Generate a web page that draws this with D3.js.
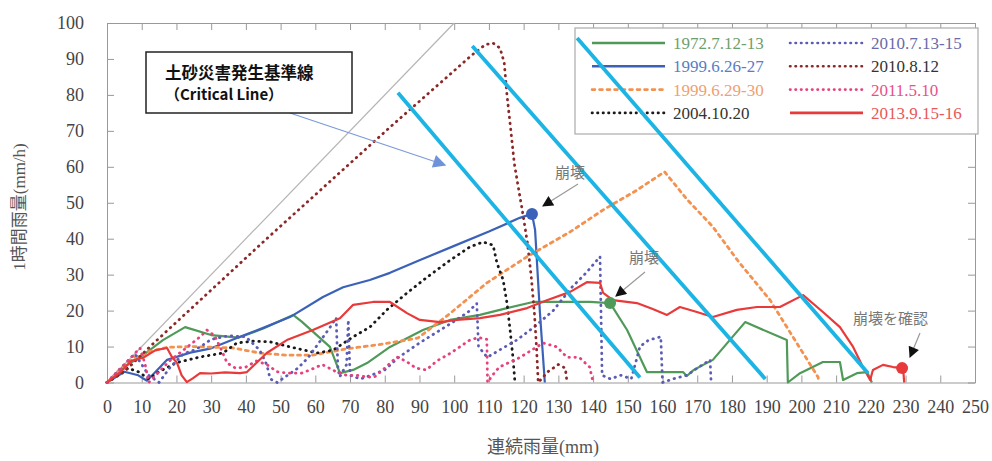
<!DOCTYPE html>
<html>
<head>
<meta charset="utf-8">
<script src="https://cdn.jsdelivr.net/npm/d3@7"></script>
<style>
  body { margin: 0; background: #fff; }
  svg text { font-family: "Liberation Serif", "Noto Sans CJK JP", serif; }
</style>
</head>
<body>
<script>
// series values: [cumulative rain (mm), hourly rain (mm/h)]
let s1972 = [[0,0],[3.7,3.6],[10.4,7.6],[16.1,11.8],[22.5,15.4],[30,13.2],[38,12.5],[45,15],[53.6,18.8],[56,17],
  [64.2,9.9],[67.1,2.6],[70.9,3.5],[74.9,5.4],[81.5,9.9],[91,14.6],[98.8,17.4],[107.4,18.8],[115.2,20.7],[122.7,22.4],
  [139.1,22.4],[144.9,22.1],[149.8,14.6],[155.5,2.9],[165.9,2.9],[167,1.8],[169,3.5],[171.7,4.9],[174.5,6.3],[183.8,16.8],
  [195.8,11.8],[196.1,0],[199.6,2.6],[206.2,5.7],[211.1,5.7],[212,0.7],[216,2.6],[218.9,2.9],[220.3,0]];
let s1999a = [[0,0],[5,3],[9,2],[11.5,0.5],[14,3],[17.3,6.3],[24,8.3],[30,9.5],[38.3,12.7],[45,15.2],[52.7,18.2],
  [62.2,23.8],[68,26.5],[75.7,28.5],[81.5,30.5],[90,34],[100,38],[110,42],[118.9,45.8],[122.4,46.9],[123.3,42.4],
  [124.7,19.3],[126.1,0]];
let s1999b = [[0,0],[4,4],[8,7],[12,8.5],[17.3,9.8],[25,10],[36.3,9.6],[44,8.2],[51.8,7.6],[59.3,7.6],[64,8.5],
  [70,9.5],[78,10.5],[86.4,11.8],[89.6,12.4],[98.8,19.2],[109.4,27.7],[121,35],[133.4,41.9],[142.9,48],[152.6,53.5],
  [160.6,58.6],[167,51],[174.5,43.3],[182,33.5],[191,22.9],[198,12],[204.8,1.5],[205,0]];
let s2004 = [[0,0],[3,2],[6,4],[9,3],[12,1],[15,3],[20,5.5],[26.8,7.1],[33.4,8.2],[37.4,11],[42,11.5],[47,11.3],
  [52.7,9.9],[60.5,8.2],[65.1,9],[70.9,12.7],[75.7,15.4],[80.6,20.2],[86.4,24.9],[92.2,29.3],[98.8,34],[104.5,37.7],
  [108.3,39.1],[111.2,38.2],[112.3,33.3],[114.1,28.5],[115.2,22.1],[116.1,14.6],[116.9,7.1],[117.5,0]];
let s2010a = [[0,0],[4,4],[8,8],[10,5],[12,2],[15,0],[18,4],[22,8],[25,9],[27,10],[30,12],[35,13],[40,12.7],[44,9],
  [46,5],[47,1],[49,0],[52,2],[55,4],[58,7],[61,11],[64,15],[66,18],[66.5,4],[67,1.5],[69,5],[69.5,17.4],[70,2],
  [73,1],[76,2],[80,3.5],[84,7],[90,11],[95,14],[99,16.4],[104,19.6],[106.5,22],[107,10],[109.5,7],[113,9],
  [118,11.8],[123,15.4],[128.5,20],[134,26.6],[138,30.5],[142,35],[142.6,2],[145,1],[148,2],[151,1],[153.5,10],
  [156,11.8],[159.5,12.7],[160,0],[163,1],[167,2],[170,4],[173.7,6.3],[174,0]];
let s2010b = [[0,0],[5,3],[12.4,10],[46,40],[81.5,71],[105,91],[109,94],[111.2,94.4],[113.2,93],[114.4,89],
  [115.2,80],[116.3,70.2],[117.3,61],[118.6,53.5],[119.6,48],[121.1,38.8],[122.2,29.3],[123.1,19.3],[123.7,9.9],
  [124.2,0],[127,3],[130,5],[132,4],[132.5,0]];
let s2011 = [[0,0],[5,5],[9.5,9.6],[11,5],[12,0],[15,3],[18,6],[22,9],[26.8,12.7],[28.8,14.6],[31,13],[33,9],
  [34.6,5.4],[37,4],[40,4.3],[43,6],[46,5],[49,3],[52,2.6],[56,2.6],[58.5,3.5],[62,5],[66,3],[69,2],[72,2],[75,1.5],
  [77,1.5],[80,4],[83.5,7.1],[86,6],[89,4],[92,3.5],[95,6],[99,8.2],[104.5,11.8],[107,12.5],[109.4,12],[109.6,0],
  [111,2],[113,4.3],[119,7],[125.6,11],[129.6,9.9],[132.5,7],[136,7],[139,4.3],[140,0]];
let s2013 = [[0,0],[4,3],[7,6],[10.4,6.9],[14,9],[17.3,9.6],[18.7,7.1],[20.2,5.4],[21.5,2],[23,0.1],[24.8,1.2],
  [26.8,2.6],[30,2.5],[34,2.8],[38.3,2.6],[40.3,2.9],[46,8.2],[51.8,11.8],[59.3,14.6],[67.1,17.9],[70.9,21.6],
  [76.6,22.4],[81.5,22.4],[86.4,19.3],[90.1,17.4],[95.9,16.8],[100.8,17.4],[107.4,17.9],[113.2,18.8],[121,20.7],
  [126.7,22.9],[133.4,25.2],[138.2,27.9],[142,27.7],[142.9,24.9],[145.7,22.9],[152.6,22.1],[157,20.5],[161.3,18.8],
  [165,21],[169.9,19.6],[174.5,18.2],[181.4,20.2],[187.2,21],[193.8,21],[200.5,24.3],[206.2,19.6],[211.1,15.4],
  [214.9,9.9],[217.7,4.3],[219.8,0.7],[220.6,3.5],[223.5,4.9],[226.4,4.3],[229.3,4],[229.6,0]];

// critical lines and the 1:1 guide
let critical = [[[83.8,80.6],[153.5,1.4]], [[105.2,93.6],[189.6,1]], [[135.4,95.8],[219.2,2.6]]];
let guide = [[0,0],[100,100]];

// collapse points
let collapses = [[122.4,46.9,"#3b62b8"], [144.9,22.1,"#4f9a58"], [229,4,"#e83a3a"]];

let names = ["1972.7.12-13","1999.6.26-27","1999.6.29-30","2004.10.20","2010.7.13-15","2010.8.12","2011.5.10","2013.9.15-16"];
let colors = ["#4f9a58","#3b62b8","#f39250","#1a1a1a","#5b5cb5","#8b2828","#e8407c","#e83a3a"];
let textColors = ["#6d9e6d","#5a7cc4","#f0a070","#333","#6a6aa8","#333","#e8508a","#e85858"];
let dotted = [false,false,true,true,true,true,true,false];
let seriesData = [s1972,s1999a,s1999b,s2004,s2010a,s2010b,s2011,s2013];

let xTicks = d3.range(0, 251, 10);
let yTicks = d3.range(0, 101, 10);

let width = 992, height = 461;
let svg = d3.select("body").append("svg")
  .attr("width", width)
  .attr("height", height);

let x = d3.scaleLinear().domain([0, 250]).range([107, 975]);
let y = d3.scaleLinear().domain([0, 100]).range([382.5, 23]);

// frame with inside ticks on all four sides
let axisStyle = g => {
  g.attr("font-family", "Liberation Serif, serif").attr("font-size", 18);
  g.selectAll(".domain").attr("stroke", "#999");
  g.selectAll(".tick line").attr("stroke", "#999");
  g.selectAll(".tick text").attr("fill", "#444")
    .style("font-family", "Liberation Serif, serif").style("font-size", "18px");
};
svg.append("g").attr("transform", "translate(0," + y(0) + ")")
  .call(d3.axisBottom(x).tickValues(xTicks).tickSizeInner(-7).tickSizeOuter(0).tickPadding(18))
  .call(axisStyle);
svg.append("g").attr("transform", "translate(0," + y(100) + ")")
  .call(d3.axisTop(x).tickValues(xTicks).tickSizeInner(-7).tickSizeOuter(0).tickFormat(""))
  .call(axisStyle);
svg.append("g").attr("transform", "translate(" + x(0) + ",0)")
  .call(d3.axisLeft(y).tickValues(yTicks).tickSizeInner(-7).tickSizeOuter(0).tickPadding(23))
  .call(axisStyle);
svg.append("g").attr("transform", "translate(" + x(250) + ",0)")
  .call(d3.axisRight(y).tickValues(yTicks).tickSizeInner(-7).tickSizeOuter(0).tickFormat(""))
  .call(axisStyle);

// axis titles
svg.append("text")
  .attr("x", 543).attr("y", 453)
  .attr("text-anchor", "middle")
  .style("font-size", "18px").attr("fill", "#555")
  .text("連続雨量(mm)");
svg.append("text")
  .attr("transform", "translate(25,207) rotate(-90)")
  .attr("text-anchor", "middle")
  .style("font-size", "17px").attr("fill", "#555")
  .text("1時間雨量(mm/h)");

let line = d3.line().x(d => x(d[0])).y(d => y(d[1]));

// 1:1 guide
svg.append("path").datum(guide)
  .attr("d", line)
  .attr("fill", "none").attr("stroke", "#b5b5b5").attr("stroke-width", 1.2);

// rainfall series
svg.selectAll("path.series")
  .data(seriesData)
  .enter()
  .append("path")
    .attr("class", "series")
    .attr("d", line)
    .attr("fill", "none")
    .attr("stroke", (d, i) => colors[i])
    .attr("stroke-width", (d, i) => dotted[i] ? 2.8 : 2.2)
    .attr("stroke-linecap", (d, i) => dotted[i] ? "round" : "butt")
    .attr("stroke-linejoin", "round")
    .attr("stroke-dasharray", (d, i) => dotted[i] ? (i == 2 ? "3,4.5" : "0.5,5.5") : null);

// legend
let lg = svg.append("g");
lg.append("rect")
  .attr("x", 575).attr("y", 28).attr("width", 403).attr("height", 106)
  .attr("fill", "#fff").attr("stroke", "#aaa").attr("stroke-width", 1.2);
let item = lg.selectAll("g.item")
  .data(names)
  .enter()
  .append("g")
    .attr("class", "item")
    .attr("transform", (d, i) => "translate(" + (i < 4 ? 592 : 790) + "," + (43 + (i % 4) * 23.3) + ")");
item.append("line")
  .attr("x1", 0).attr("x2", 73)
  .attr("stroke", (d, i) => colors[i])
  .attr("stroke-width", 2.6)
  .attr("stroke-linecap", (d, i) => dotted[i] ? "round" : "butt")
  .attr("stroke-dasharray", (d, i) => dotted[i] ? (i == 2 ? "3,4.5" : "0.5,5") : null);
item.append("text")
  .attr("x", 81).attr("dy", "0.35em")
  .style("font-size", "17px")
  .attr("fill", (d, i) => textColors[i])
  .text(d => d);

// critical lines
svg.selectAll("path.crit")
  .data(critical)
  .enter()
  .append("path")
    .attr("class", "crit")
    .attr("d", line)
    .attr("stroke", "#1cb4e4").attr("stroke-width", 3.8).attr("fill", "none");

// collapse markers
svg.selectAll("circle.hit")
  .data(collapses)
  .enter()
  .append("circle")
    .attr("class", "hit")
    .attr("cx", d => x(d[0])).attr("cy", d => y(d[1]))
    .attr("r", 6)
    .attr("fill", d => d[2]);

// arrows
let defs = svg.append("defs");
defs.append("marker").attr("id", "tri-blue")
  .attr("viewBox", "0 0 10 10").attr("refX", 9).attr("refY", 5)
  .attr("markerWidth", 16).attr("markerHeight", 13).attr("markerUnits", "userSpaceOnUse")
  .attr("orient", "auto")
  .append("path").attr("d", "M0,0L10,5L0,10Z").attr("fill", "#6f93d8");
defs.append("marker").attr("id", "tri-black")
  .attr("viewBox", "0 0 10 10").attr("refX", 9).attr("refY", 5)
  .attr("markerWidth", 12).attr("markerHeight", 11).attr("markerUnits", "userSpaceOnUse")
  .attr("orient", "auto")
  .append("path").attr("d", "M0,0L10,5L0,10Z").attr("fill", "#111");

svg.append("line")
  .attr("x1", 290).attr("y1", 113).attr("x2", 445).attr("y2", 165)
  .attr("stroke", "#7d9bd8").attr("stroke-width", 1.3)
  .attr("marker-end", "url(#tri-blue)");

let arrows = [[578,184,543,206],[645,272,616,296],[920,333,910,357]];
svg.selectAll("line.arr")
  .data(arrows)
  .enter()
  .append("line")
    .attr("class", "arr")
    .attr("x1", d => d[0]).attr("y1", d => d[1]).attr("x2", d => d[2]).attr("y2", d => d[3])
    .attr("stroke", "#999").attr("stroke-width", 1.2)
    .attr("marker-end", "url(#tri-black)");

let notes = [["崩壊",555,178],["崩壊",629,263],["崩壊を確認",853,324]];
svg.selectAll("text.note")
  .data(notes)
  .enter()
  .append("text")
    .attr("class", "note")
    .attr("x", d => d[1]).attr("y", d => d[2])
    .style("font-size", "15px").attr("fill", "#777")
    .text(d => d[0]);

// critical line call-out
svg.append("rect")
  .attr("x", 146).attr("y", 52).attr("width", 206).attr("height", 61)
  .attr("fill", "#fff").attr("stroke", "#222").attr("stroke-width", 1.5);
svg.append("text")
  .attr("x", 165).attr("y", 79)
  .style("font-family", "'Noto Sans CJK JP', sans-serif").style("font-weight", "bold")
  .style("font-size", "16.5px").attr("fill", "#111")
  .text("土砂災害発生基準線");
svg.append("text")
  .attr("x", 165).attr("y", 100)
  .style("font-family", "'Noto Sans CJK JP', sans-serif").style("font-weight", "bold")
  .style("font-size", "15px").attr("fill", "#111")
  .text("（Critical Line）");
</script>
</body>
</html>
